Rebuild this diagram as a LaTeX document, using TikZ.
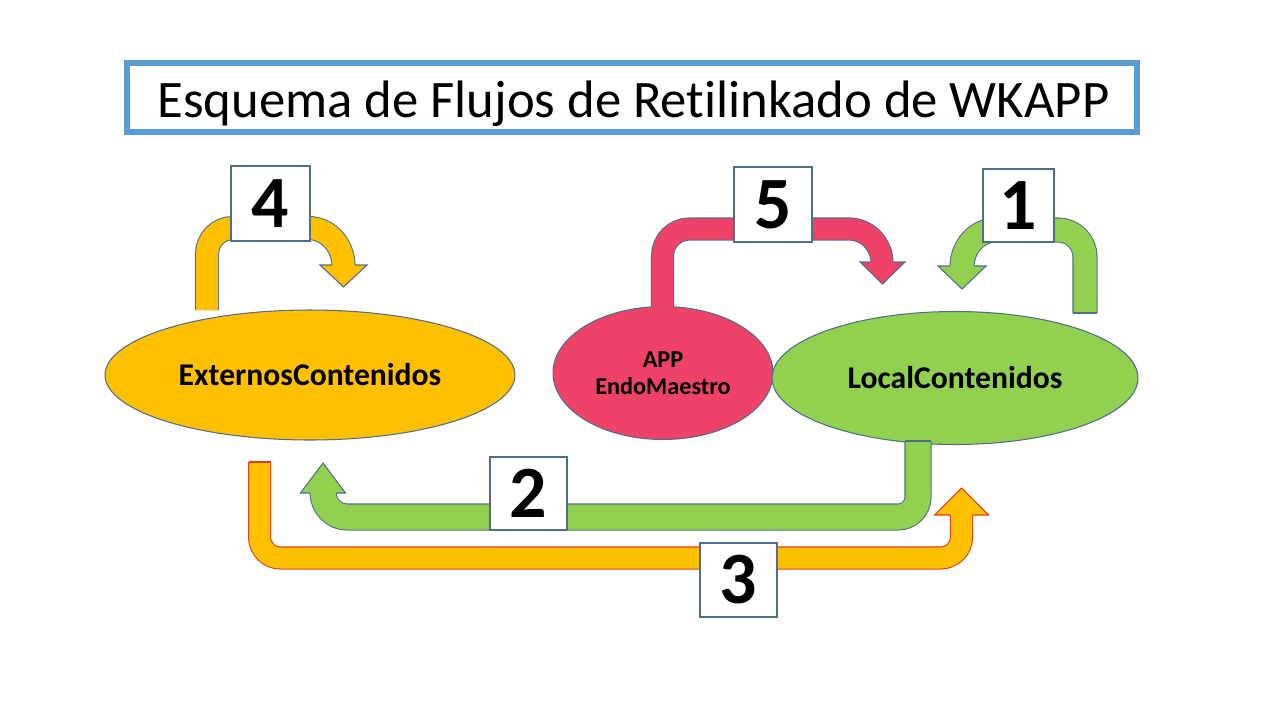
\documentclass[tikz,border=0pt]{standalone}
\usepackage{fontspec}
\setmainfont{Carlito}[Ligatures=NoCommon]
\usetikzlibrary{shapes.geometric}
\definecolor{cyel}{RGB}{255,192,0}
\definecolor{cgrn}{RGB}{146,208,80}
\definecolor{cpnk}{RGB}{239,66,104}
\definecolor{cblue}{RGB}{91,155,213}
\definecolor{cline}{RGB}{80,110,140}
\definecolor{cred}{RGB}{230,60,20}
\begin{document}
\begin{tikzpicture}[x=0.02cm,y=-0.02cm,
  outl/.style={draw=#1, line width=0.6pt},
  outl/.default=cline,
  band/.style n args={3}{draw=#2, line width=0.6pt, double=#1, double distance=#3},
  numbox/.style={draw=cline, fill=white, line width=0.8pt, inner sep=0pt,
    font=\bfseries\fontsize{42}{42}\selectfont},
  ell/.style={ellipse, draw=cline, line width=0.6pt, inner sep=0pt},
  elltext/.style={font=\bfseries\fontsize{18}{20}\selectfont},
]
\useasboundingbox (0,0) rectangle (1280,720);
\fill[white] (0,0) rectangle (1280,720);

% title
\node[draw=cblue, line width=0.12cm, fill=white, minimum width=20.2cm,
  minimum height=1.38cm, inner sep=0pt] (title) at (632,97.5) {};
\node[anchor=base, font=\fontsize{30}{36}\selectfont, inner sep=0pt] (titletext)
  at (633.5,117) {Esquema de Flujos de Retilinkado de WKAPP};

% ellipses
\node[ell, fill=cyel, minimum width=8.2cm, minimum height=2.6cm, elltext] (ext)
  at (310,375) {ExternosContenidos};
\node[ell, fill=cpnk, minimum width=4.4cm, minimum height=2.66cm, align=center,
  font=\bfseries\fontsize{13.8}{15.6}\selectfont] (app)
  at (663,373) {APP\\EndoMaestro};
\node[ell, fill=cgrn, minimum width=7.32cm, minimum height=2.66cm, elltext] (loc)
  at (955,378) {LocalContenidos};

% arrow 4 (yellow, top left)
\coordinate (s4) at (207,310);
\coordinate (t4) at (343.5,287);
\draw[band={cyel}{cline}{0.44cm}]
  (s4) -- (207,254) to[out=90,in=180] (233,228) -- (308,228)
  to[out=0,in=90] (343.5,266);
\fill[cyel] (320,265) -- (367,265) -- (t4) -- cycle;
\draw[outl] (332,265) -- (320,265) -- (t4) -- (367,265) -- (355,265);

% arrow 5 (pink)
\coordinate (s5) at (662.5,307);
\coordinate (t5) at (882.5,284);
\draw[band={cpnk}{cline}{0.42cm}]
  (s5) -- (662.5,256) to[out=90,in=180] (689.5,229) -- (849,229)
  to[out=0,in=90] (882,263);
\fill[cpnk] (860,262) -- (905,262) -- (t5) -- cycle;
\draw[outl] (871,262) -- (860,262) -- (t5) -- (905,262) -- (893,262);

% arrow 1 (green, top right)
\coordinate (s1) at (1085,313);
\coordinate (t1) at (962,289);
\draw[band={cgrn}{cline}{0.46cm}]
  (s1) -- (1085,257) to[out=90,in=0] (1058,230) -- (996,230)
  to[out=180,in=90] (962,267);
\fill[cgrn] (938,266) -- (986,266) -- (t1) -- cycle;
\draw[outl] (950,266) -- (938,266) -- (t1) -- (986,266) -- (974,266);
\draw[outl] (1073,313) -- (1097,313);

% arrow 2 (green, bottom)
\coordinate (s2) at (918,441);
\coordinate (t2) at (323,463);
\draw[band={cgrn}{cline}{0.5cm}]
  (s2) -- (918,497) to[out=270,in=0] (898,517) -- (347,517)
  to[out=180,in=270] (323,492);
\fill[cgrn] (300.5,493) -- (345.5,493) -- (t2) -- cycle;
\draw[outl] (310,493) -- (300.5,493) -- (t2) -- (345.5,493) -- (336,493);
\draw[outl] (905,441) -- (931,441);

% arrow 3 (yellow, bottom, red outline)
\coordinate (s3) at (259.6,462);
\coordinate (t3) at (961.5,488);
\draw[band={cyel}{cred}{0.42cm}]
  (s3) -- (259.6,537) to[out=270,in=180] (280.6,558) -- (940.5,558)
  to[out=0,in=270] (961.5,537) -- (961.5,514);
\fill[cyel] (934.5,515) -- (988.5,515) -- (t3) -- cycle;
\draw[outl=cred] (950.5,515) -- (934.5,515) -- (t3) -- (988.5,515) -- (972.5,515);
\draw[outl=cred] (248.6,462) -- (270.6,462);

% number boxes
\node[numbox, minimum width=1.58cm, minimum height=1.5cm] (b4) at (270.5,203.5) {4};
\node[numbox, minimum width=1.56cm, minimum height=1.5cm] (b5) at (773,204.5) {5};
\node[numbox, minimum width=1.42cm, minimum height=1.46cm] (b1) at (1018.5,205.5) {1};
\node[numbox, minimum width=1.54cm, minimum height=1.46cm] (b2) at (528.5,493.5) {2};
\node[numbox, minimum width=1.54cm, minimum height=1.48cm] (b3) at (738.5,580) {3};
\end{tikzpicture}
\end{document}
